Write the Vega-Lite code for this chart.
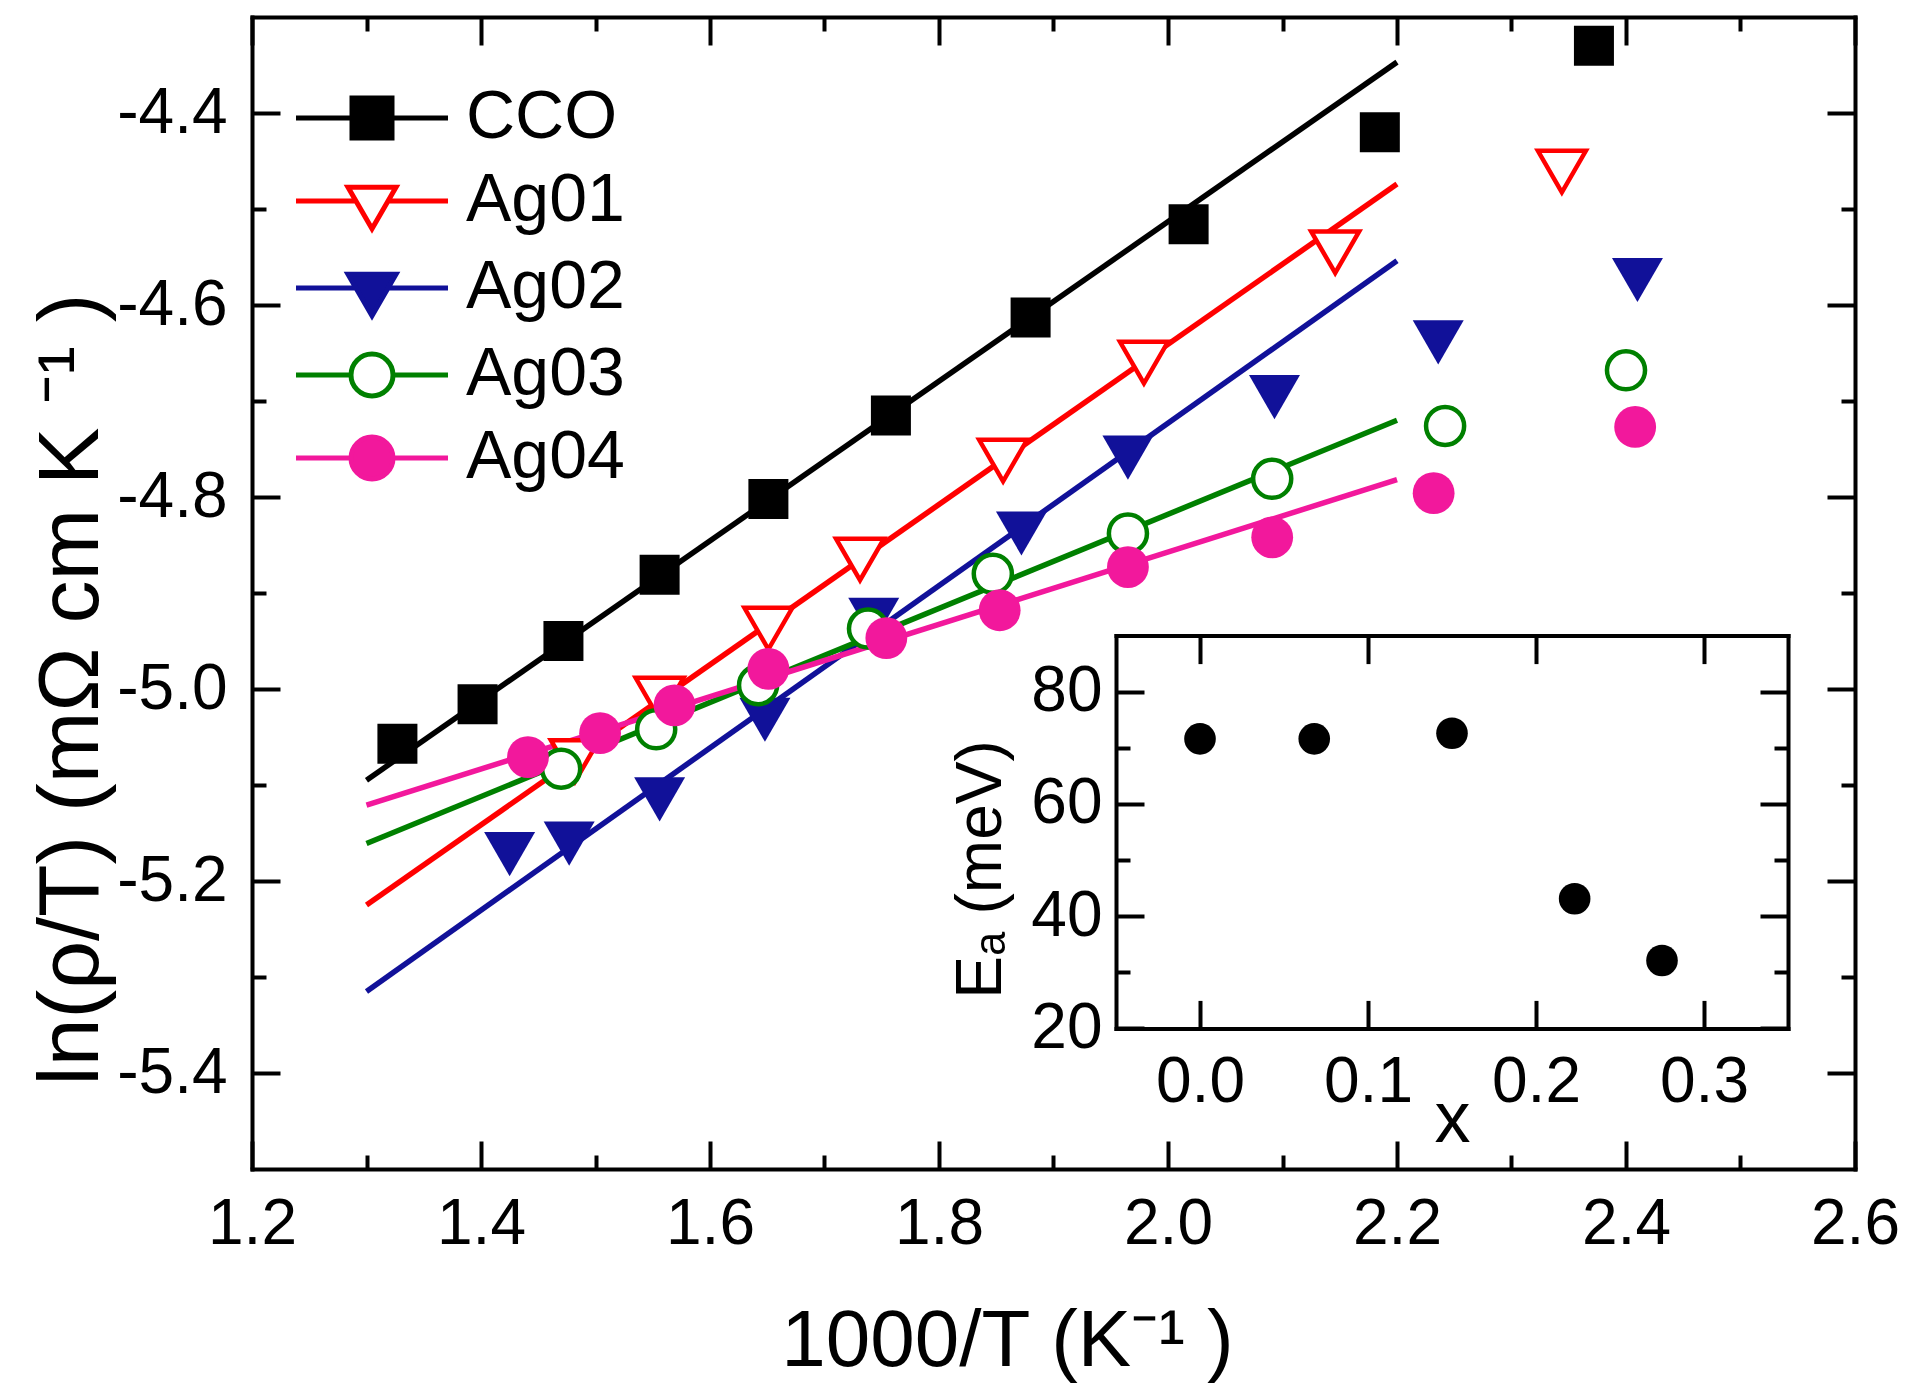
{
  "$schema": "https://vega.github.io/schema/vega-lite/v6.json",
  "width": 1603,
  "height": 1152,
  "autosize": {"type": "none"},
  "padding": {"left": 252, "top": 17, "right": 58, "bottom": 220},
  "background": "white",
  "config": {
    "view": {"stroke": null},
    "axis": {
      "domainColor": "black", "domainWidth": 4, "domainCap": "square",
      "tickColor": "black", "tickWidth": 4,
      "labelFont": "Liberation Sans", "labelFontSize": 64, "labelColor": "black",
      "titleFont": "Liberation Sans", "titleFontWeight": "normal", "titleColor": "black",
      "grid": false, "labelFlush": false, "labelOverlap": false, "labelBound": false
    },
    "legend": {"labelFont": "Liberation Sans", "labelColor": "black"}
  },
  "datasets": {
    "pts": [
      {"series": "CCO", "x": 1.327, "y": -5.057},
      {"series": "CCO", "x": 1.397, "y": -5.016},
      {"series": "CCO", "x": 1.472, "y": -4.950},
      {"series": "CCO", "x": 1.556, "y": -4.881},
      {"series": "CCO", "x": 1.651, "y": -4.802},
      {"series": "CCO", "x": 1.758, "y": -4.715},
      {"series": "CCO", "x": 1.880, "y": -4.613},
      {"series": "CCO", "x": 2.018, "y": -4.516},
      {"series": "CCO", "x": 2.185, "y": -4.420},
      {"series": "CCO", "x": 2.372, "y": -4.330},
      {"series": "Ag01", "x": 1.482, "y": -5.075},
      {"series": "Ag01", "x": 1.556, "y": -5.010},
      {"series": "Ag01", "x": 1.651, "y": -4.937},
      {"series": "Ag01", "x": 1.731, "y": -4.865},
      {"series": "Ag01", "x": 1.856, "y": -4.762},
      {"series": "Ag01", "x": 1.979, "y": -4.660},
      {"series": "Ag01", "x": 2.146, "y": -4.545},
      {"series": "Ag01", "x": 2.344, "y": -4.461},
      {"series": "Ag02", "x": 1.425, "y": -5.172},
      {"series": "Ag02", "x": 1.477, "y": -5.161},
      {"series": "Ag02", "x": 1.556, "y": -5.115},
      {"series": "Ag02", "x": 1.648, "y": -5.032},
      {"series": "Ag02", "x": 1.743, "y": -4.928},
      {"series": "Ag02", "x": 1.872, "y": -4.838},
      {"series": "Ag02", "x": 1.965, "y": -4.759},
      {"series": "Ag02", "x": 2.093, "y": -4.696},
      {"series": "Ag02", "x": 2.236, "y": -4.639},
      {"series": "Ag02", "x": 2.410, "y": -4.574},
      {"series": "Ag03", "x": 1.470, "y": -5.083},
      {"series": "Ag03", "x": 1.553, "y": -5.042},
      {"series": "Ag03", "x": 1.642, "y": -4.996},
      {"series": "Ag03", "x": 1.738, "y": -4.937},
      {"series": "Ag03", "x": 1.847, "y": -4.880},
      {"series": "Ag03", "x": 1.965, "y": -4.838},
      {"series": "Ag03", "x": 2.091, "y": -4.781},
      {"series": "Ag03", "x": 2.242, "y": -4.726},
      {"series": "Ag03", "x": 2.400, "y": -4.668},
      {"series": "Ag04", "x": 1.441, "y": -5.071},
      {"series": "Ag04", "x": 1.504, "y": -5.046},
      {"series": "Ag04", "x": 1.569, "y": -5.017},
      {"series": "Ag04", "x": 1.651, "y": -4.979},
      {"series": "Ag04", "x": 1.754, "y": -4.947},
      {"series": "Ag04", "x": 1.853, "y": -4.918},
      {"series": "Ag04", "x": 1.965, "y": -4.873},
      {"series": "Ag04", "x": 2.091, "y": -4.842},
      {"series": "Ag04", "x": 2.232, "y": -4.796},
      {"series": "Ag04", "x": 2.408, "y": -4.727}
    ],
    "fits": [
      {"series": "CCO", "x": 1.3, "y": -5.095},
      {"series": "CCO", "x": 2.2, "y": -4.347},
      {"series": "Ag01", "x": 1.3, "y": -5.225},
      {"series": "Ag01", "x": 2.2, "y": -4.474},
      {"series": "Ag02", "x": 1.3, "y": -5.315},
      {"series": "Ag02", "x": 2.2, "y": -4.554},
      {"series": "Ag03", "x": 1.3, "y": -5.161},
      {"series": "Ag03", "x": 2.2, "y": -4.720},
      {"series": "Ag04", "x": 1.3, "y": -5.121},
      {"series": "Ag04", "x": 2.2, "y": -4.782}
    ],
    "inset": [
      {"x": 0.0, "Ea": 71.6},
      {"x": 0.068, "Ea": 71.6},
      {"x": 0.150, "Ea": 72.6},
      {"x": 0.223, "Ea": 43.1},
      {"x": 0.275, "Ea": 32.1}
    ]
  },
  "layer": [
    {
      "data": {"name": "fits"},
      "mark": {"type": "line", "strokeWidth": 5.5},
      "encoding": {
        "x": {"field": "x", "type": "quantitative",
          "scale": {"domain": [1.2, 2.6], "nice": false, "zero": false},
          "axis": {"orient": "bottom",
            "values": [1.2, 1.3, 1.4, 1.5, 1.6, 1.7, 1.8, 1.9, 2.0, 2.1, 2.2, 2.3, 2.4, 2.5, 2.6],
            "labelExpr": "round(datum.value*10) % 2 == 0 ? format(datum.value, '.1f') : ''",
            "tickSize": {"condition": {"test": "round(datum.value*10) % 2 == 0", "value": -28}, "value": -14},
            "labelPadding": 51,
            "title": "1000/T (K⁻¹ )", "titleFontSize": 80,
            "titleX": 755, "titleY": 196, "titleBaseline": "alphabetic"}},
        "y": {"field": "y", "type": "quantitative",
          "scale": {"domain": [-5.5, -4.3], "nice": false, "zero": false},
          "axis": {"orient": "left",
            "values": [-5.4, -5.3, -5.2, -5.1, -5.0, -4.9, -4.8, -4.7, -4.6, -4.5, -4.4],
            "labelExpr": "round(datum.value*10) % 2 == 0 ? replace(format(datum.value, '.1f'), '−', '-') : ''",
            "tickSize": {"condition": {"test": "round(datum.value*10) % 2 == 0", "value": -28}, "value": -14},
            "labelPadding": 53,
            "title": "ln(ρ/T) (mΩ cm K ⁻¹ )", "titleFontSize": 86,
            "titleX": -155, "titleY": 672, "titleAngle": 270, "titleBaseline": "alphabetic"}},
        "color": {"field": "series", "type": "nominal",
          "scale": {"domain": ["Ag01", "Ag02", "Ag03", "Ag04", "CCO"],
                    "range": ["#FF0000", "#111199", "#008000", "#F2189C", "#000000"]},
          "legend": null}
      }
    },
    {
      "data": {"name": "pts"},
      "transform": [{"filter": "datum.series == 'CCO'"}],
      "mark": {"type": "point", "shape": "square", "filled": true, "fill": "#000000", "size": 1600, "opacity": 1},
      "encoding": {
        "x": {"field": "x", "type": "quantitative",
          "scale": {"domain": [1.2, 2.6], "nice": false, "zero": false},
          "axis": {"orient": "top",
            "values": [1.2, 1.3, 1.4, 1.5, 1.6, 1.7, 1.8, 1.9, 2.0, 2.1, 2.2, 2.3, 2.4, 2.5, 2.6],
            "labels": false,
            "tickSize": {"condition": {"test": "round(datum.value*10) % 2 == 0", "value": -28}, "value": -14},
            "title": null}},
        "y": {"field": "y", "type": "quantitative",
          "scale": {"domain": [-5.5, -4.3], "nice": false, "zero": false},
          "axis": {"orient": "right",
            "values": [-5.4, -5.3, -5.2, -5.1, -5.0, -4.9, -4.8, -4.7, -4.6, -4.5, -4.4],
            "labels": false,
            "tickSize": {"condition": {"test": "round(datum.value*10) % 2 == 0", "value": -28}, "value": -14},
            "title": null}}
      }
    },
    {
      "data": {"name": "pts"},
      "transform": [{"filter": "datum.series == 'Ag01'"}],
      "mark": {"type": "point", "shape": "triangle-down", "filled": true, "fill": "#FFFFFF", "stroke": "#FF0000", "strokeWidth": 4.5, "size": 2300, "opacity": 1},
      "encoding": {
        "x": {"field": "x", "type": "quantitative", "scale": {"domain": [1.2, 2.6], "nice": false, "zero": false}, "axis": null},
        "y": {"field": "y", "type": "quantitative", "scale": {"domain": [-5.5, -4.3], "nice": false, "zero": false}, "axis": null}
      }
    },
    {
      "data": {"name": "pts"},
      "transform": [{"filter": "datum.series == 'Ag02'"}],
      "mark": {"type": "point", "shape": "triangle-down", "filled": true, "fill": "#111199", "size": 2600, "opacity": 1},
      "encoding": {
        "x": {"field": "x", "type": "quantitative", "scale": {"domain": [1.2, 2.6], "nice": false, "zero": false}, "axis": null},
        "y": {"field": "y", "type": "quantitative", "scale": {"domain": [-5.5, -4.3], "nice": false, "zero": false}, "axis": null}
      }
    },
    {
      "data": {"name": "pts"},
      "transform": [{"filter": "datum.series == 'Ag03'"}],
      "mark": {"type": "point", "shape": "circle", "filled": true, "fill": "#FFFFFF", "stroke": "#008000", "strokeWidth": 4.5, "size": 1450, "opacity": 1},
      "encoding": {
        "x": {"field": "x", "type": "quantitative", "scale": {"domain": [1.2, 2.6], "nice": false, "zero": false}, "axis": null},
        "y": {"field": "y", "type": "quantitative", "scale": {"domain": [-5.5, -4.3], "nice": false, "zero": false}, "axis": null}
      }
    },
    {
      "data": {"name": "pts"},
      "transform": [{"filter": "datum.series == 'Ag04'"}],
      "mark": {"type": "point", "shape": "circle", "filled": true, "fill": "#F2189C", "size": 1750, "opacity": 1},
      "encoding": {
        "x": {"field": "x", "type": "quantitative", "scale": {"domain": [1.2, 2.6], "nice": false, "zero": false}, "axis": null},
        "y": {"field": "y", "type": "quantitative", "scale": {"domain": [-5.5, -4.3], "nice": false, "zero": false}, "axis": null}
      }
    },
    {
      "data": {"name": "pts"},
      "mark": {"type": "point", "strokeWidth": 4.5, "opacity": 0},
      "encoding": {
        "x": {"field": "x", "type": "quantitative", "scale": {"domain": [1.2, 2.6], "nice": false, "zero": false}, "axis": null},
        "y": {"field": "y", "type": "quantitative", "scale": {"domain": [-5.5, -4.3], "nice": false, "zero": false}, "axis": null},
        "shape": {"field": "series", "type": "nominal",
          "scale": {"domain": ["CCO", "Ag01", "Ag02", "Ag03", "Ag04"],
            "range": [
              "M-3.8,0H-1M-1,-1H1V1H-1ZM1,0H3.8",
              "M-3.8,0H-0.8M-1.2,-0.69H1.2L0,1.39ZM0.8,0H3.8",
              "M-3.8,0H-0.8M-1.2,-0.69H1.2L0,1.39ZM0.8,0H3.8",
              "M-3.8,0H-1.05M-1.05,0A1.05,1.05,0,1,1,1.05,0A1.05,1.05,0,1,1,-1.05,0ZM1.05,0H3.8",
              "M-3.8,0H-1.05M-1.05,0A1.05,1.05,0,1,1,1.05,0A1.05,1.05,0,1,1,-1.05,0ZM1.05,0H3.8"
            ]},
          "legend": {"orient": "none", "legendX": 41, "legendY": 67, "title": null, "direction": "vertical",
            "symbolSize": 1600, "symbolStrokeWidth": 5, "symbolOffset": 45, "labelOffset": 60,
            "labelFontSize": 68, "rowPadding": 15, "padding": 0, "symbolOpacity": 1}},
        "fill": {"field": "series", "type": "nominal",
          "scale": {"domain": ["CCO", "Ag01", "Ag02", "Ag03", "Ag04"],
                    "range": ["#000000", "#FFFFFF", "#111199", "#FFFFFF", "#F2189C"]},
          "legend": {"orient": "none", "legendX": 41, "legendY": 67, "title": null, "direction": "vertical",
            "symbolSize": 1600, "symbolStrokeWidth": 5, "symbolOffset": 45, "labelOffset": 60,
            "labelFontSize": 68, "rowPadding": 15, "padding": 0, "symbolOpacity": 1}},
        "stroke": {"field": "series", "type": "nominal",
          "scale": {"domain": ["CCO", "Ag01", "Ag02", "Ag03", "Ag04"],
                    "range": ["#000000", "#FF0000", "#111199", "#008000", "#F2189C"]},
          "legend": {"orient": "none", "legendX": 41, "legendY": 67, "title": null, "direction": "vertical",
            "symbolSize": 1600, "symbolStrokeWidth": 5, "symbolOffset": 45, "labelOffset": 60,
            "labelFontSize": 68, "rowPadding": 15, "padding": 0, "symbolOpacity": 1}}
      }
    },
    {
      "data": {"name": "inset"},
      "mark": {"type": "point", "shape": "circle", "filled": true, "fill": "#000000", "size": 1000, "opacity": 1},
      "encoding": {
        "x": {"field": "x", "type": "quantitative",
          "scale": {"domain": [-0.05, 0.35], "range": [864, 1536], "nice": false, "zero": false},
          "axis": {"orient": "bottom", "offset": -140.6,
            "values": [0, 0.1, 0.2, 0.3], "format": ".1f",
            "tickSize": -28, "labelPadding": 50,
            "title": "x", "titleFontSize": 72, "titleY": 113, "titleBaseline": "alphabetic"}},
        "y": {"field": "Ea", "type": "quantitative",
          "scale": {"domain": [20, 90], "range": [1011.4, 618.6], "nice": false, "zero": false},
          "axis": {"orient": "left", "offset": -864,
            "values": [20, 30, 40, 50, 60, 70, 80],
            "labelExpr": "datum.value % 20 == 0 ? datum.label : ''",
            "tickSize": {"condition": {"test": "datum.value % 20 == 0", "value": -28}, "value": -14},
            "labelPadding": 42,
            "title": "Eₐ (meV)", "titleFontSize": 64,
            "titleX": -116, "titleY": 852, "titleAngle": 270, "titleBaseline": "alphabetic"}}
      }
    },
    {
      "data": {"name": "inset"},
      "mark": {"type": "point", "opacity": 0},
      "encoding": {
        "x": {"field": "x", "type": "quantitative",
          "scale": {"domain": [-0.05, 0.35], "range": [864, 1536], "nice": false, "zero": false},
          "axis": {"orient": "top", "offset": -618.6,
            "values": [0, 0.1, 0.2, 0.3], "labels": false, "tickSize": -28, "title": null}},
        "y": {"field": "Ea", "type": "quantitative",
          "scale": {"domain": [20, 90], "range": [1011.4, 618.6], "nice": false, "zero": false},
          "axis": {"orient": "right", "offset": -67,
            "values": [20, 30, 40, 50, 60, 70, 80], "labels": false,
            "tickSize": {"condition": {"test": "datum.value % 20 == 0", "value": -28}, "value": -14},
            "title": null}}
      }
    }
  ],
  "resolve": {"scale": {"x": "independent", "y": "independent"}}
}
